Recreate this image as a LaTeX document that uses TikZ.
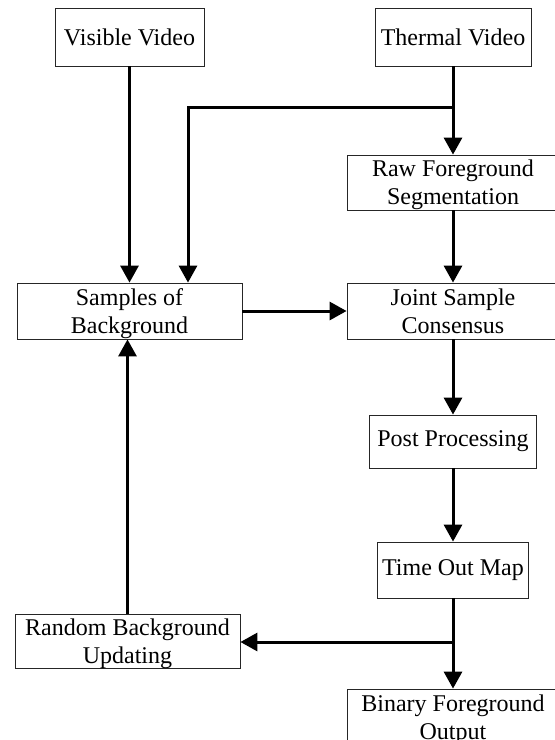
\documentclass[tikz,border=0pt]{standalone}
\usepackage{fontspec}
\setmainfont{Liberation Serif}
\usetikzlibrary{arrows.meta}
\begin{document}
\begin{tikzpicture}[x=1pt,y=-1pt,
  stage/.style={draw=black!85, line width=0.8pt, rectangle, align=center, inner sep=0pt,
    font=\fontsize{24}{28}\selectfont},
  twoline/.style={text depth=-1pt},
  flow/.style={line width=3pt, -{Triangle[length=17pt,width=18pt]}}]
  % page frame, everything outside is cut off
  \clip (0,0) rectangle (555,740);

  % stages of the pipeline
  \node[stage, minimum width=149pt, minimum height=58pt] (vis)   at (129.5,37)  {Visible Video};
  \node[stage, minimum width=156pt, minimum height=58pt] (thm)   at (453,37)    {Thermal Video};
  \node[stage, twoline, minimum width=212pt, minimum height=55pt] (raw)   at (453,182.5) {Raw Foreground\\Segmentation};
  \node[stage, twoline, minimum width=225pt, minimum height=56pt] (samp)  at (129.5,311) {Samples of\\Background};
  \node[stage, twoline, minimum width=212pt, minimum height=56pt] (joint) at (453,311)   {Joint Sample\\Consensus};
  \node[stage, minimum width=167pt, minimum height=53pt] (post)  at (453,441.5) {Post Processing};
  \node[stage, minimum width=151pt, minimum height=56pt] (tom)   at (453,570)   {Time Out Map};
  \node[stage, twoline, minimum width=225pt, minimum height=54pt] (rand)  at (127.5,641) {Random Background\\Updating};
  \node[stage, twoline, minimum width=212pt, minimum height=56pt] (bin)   at (453,717)   {Binary Foreground\\Output};

  % branch points
  \coordinate (j1) at (453,107);
  \coordinate (k1) at (188,107);
  \coordinate (j2) at (453,642);

  % connectors
  \draw[flow] (vis.south) -- (vis.south |- samp.north);
  \draw[flow] (thm.south) -- (raw.north);
  \draw[flow] (j1) -- (k1) -- (k1 |- samp.north);
  \draw[flow] (raw.south) -- (joint.north);
  \draw[flow] (samp.east) -- (joint.west);
  \draw[flow] (joint.south) -- (post.north);
  \draw[flow] (post.south) -- (tom.north);
  \draw[flow] (tom.south) -- (bin.north);
  \draw[flow] (j2) -- (j2 -| rand.east);
  \draw[flow] (rand.north) -- (rand.north |- samp.south);
\end{tikzpicture}
\end{document}
